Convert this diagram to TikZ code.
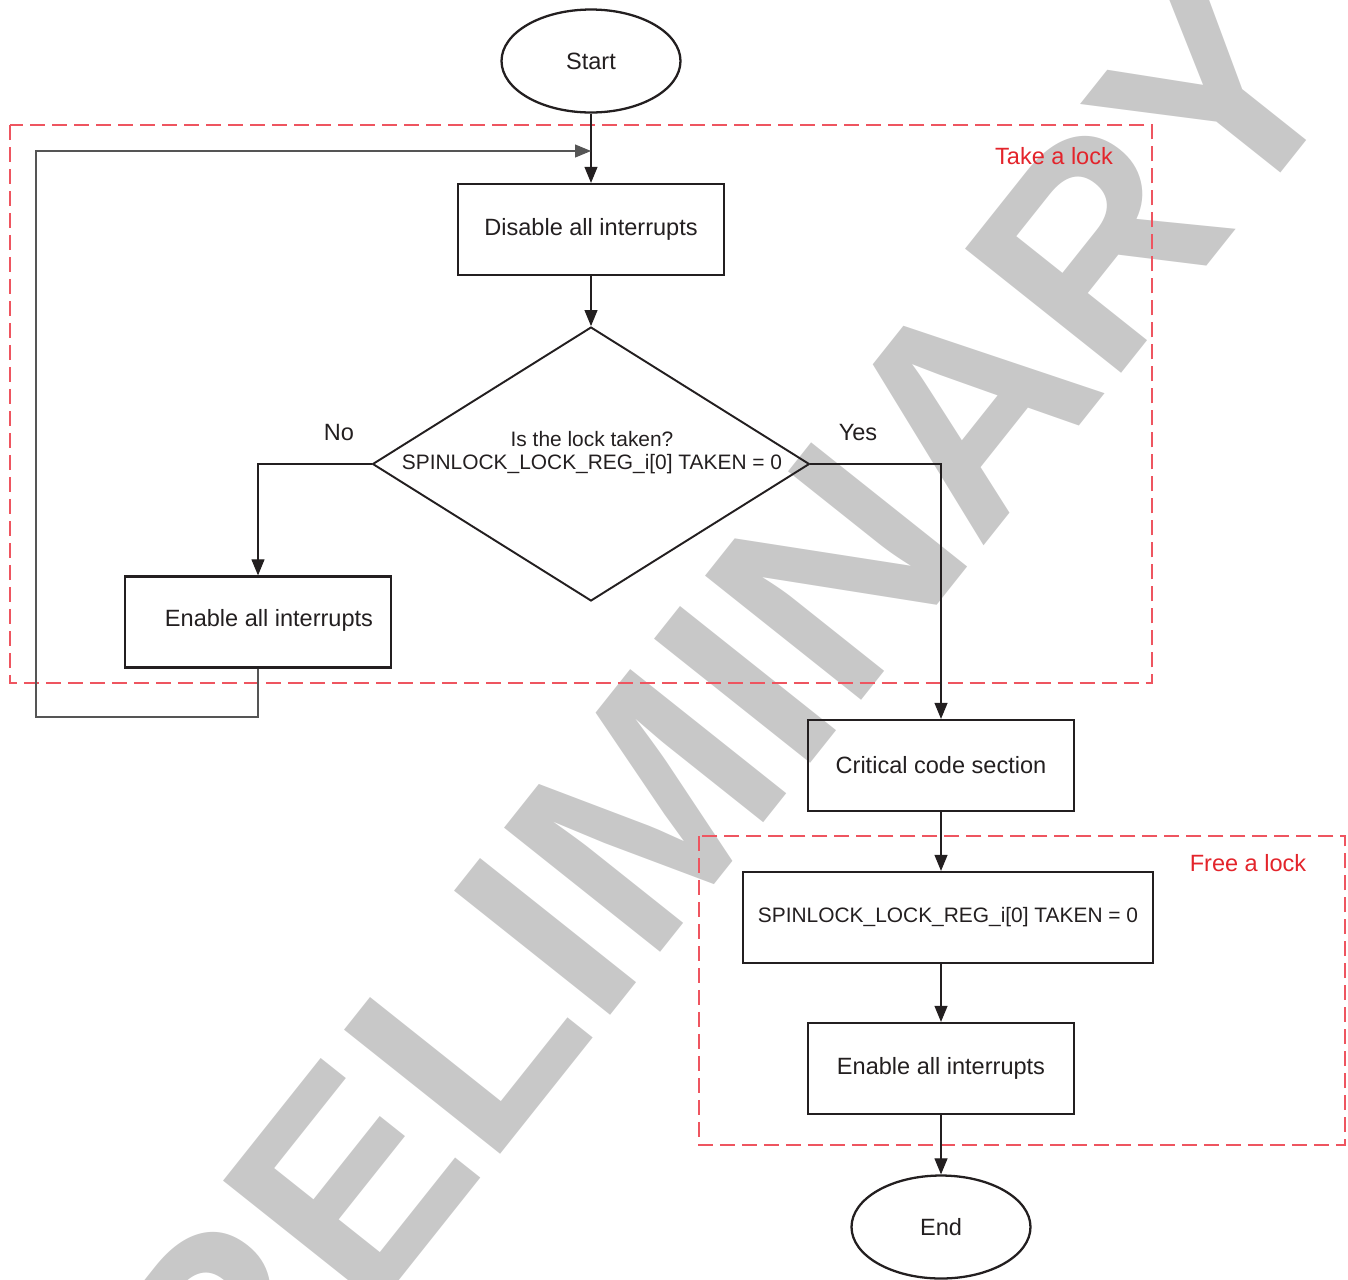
\documentclass[tikz,border=0pt]{standalone}
\usepackage{fontspec}
\setmainfont{Liberation Sans}
\usetikzlibrary{arrows.meta,shapes.geometric}
\definecolor{ink}{HTML}{231F20}
\definecolor{lockred}{HTML}{E3242B}
\definecolor{dashred}{HTML}{EE5560}
\definecolor{wm}{HTML}{C8C8C8}
\definecolor{loopgray}{HTML}{555555}
\begin{document}
\begin{tikzpicture}[x=0.02cm,y=-0.02cm,
  box/.style={draw=ink, line width=1.3pt, rectangle, minimum width=5.32cm, minimum height=1.82cm, inner sep=0pt},
  term/.style={draw=ink, line width=1.3pt, ellipse, minimum width=3.58cm, minimum height=2.06cm, inner sep=0pt},
  lbl/.style={font=\fontsize{13.4}{16}\selectfont, text=ink},
  small/.style={font=\fontsize{11.9}{13.1}\selectfont, text=ink, align=center},
  flow/.style={draw=ink, line width=0.6pt, -{Triangle[length=0.32cm,width=0.26cm]}},
  loopline/.style={draw=loopgray, line width=0.6pt, -{Triangle[length=0.32cm,width=0.26cm]}},
  region/.style={draw=dashred, line width=0.8pt, dash pattern=on 0.3cm off 0.14cm},
  regionlbl/.style={font=\fontsize{13.4}{16}\selectfont, text=lockred},
  wmark/.style={font=\fontsize{165}{165}\selectfont\bfseries, text=wm, inner sep=0pt},
]
\clip (0,0) rectangle (1348,1279);

% watermark
\node[wmark, rotate=51.5, anchor=base west] (wm) at (117,1636) {PRELIMINARY};

% dashed regions
\draw[region] (10,125) rectangle (1152,683);
\draw[region] (699,836) rectangle (1345,1145);
\node[regionlbl] (takelbl) at (1054,156) {Take a lock};
\node[regionlbl] (freelbl) at (1248,863) {Free a lock};

% flow nodes
\node[term, lbl] (start) at (591,61) {Start};
\node[box, lbl] (dis) at (591,229.5) {Disable all interrupts};
\node[draw=ink, line width=1.1pt, diamond, minimum width=8.74cm, minimum height=5.48cm, inner sep=0pt] (dia) at (591,464) {};
\node[small] (q) at (592,453) {Is the lock taken?\\SPINLOCK\_LOCK\_REG\_i[0] TAKEN = 0};
\node[box] (en1) at (258,622) {};
\node[lbl] (en1t) at (269,620) {Enable all interrupts};
\node[box, lbl] (crit) at (941,765.5) {Critical code section};
\node[box, minimum width=8.2cm, small] (spin) at (948,917.5) {SPINLOCK\_LOCK\_REG\_i[0] TAKEN = 0};
\node[box, lbl] (en2) at (941,1068.5) {Enable all interrupts};
\node[term, lbl] (end) at (941,1227) {End};

\node[lbl] (no) at (339,433) {No};
\node[lbl] (yes) at (858,433) {Yes};

% connectors
\coordinate (lb) at (36,717);
\coordinate (lt) at (36,151);
\coordinate (join) at (591,151);
\draw[flow] (start.south) -- (dis.north);
\draw[flow] (dis.south) -- (dia.north);
\draw[flow] (dia.west) -| (en1.north);
\draw[flow] (dia.east) -| (crit.north);
\draw[loopline] (en1.south) |- (lb) -- (lt) -- (join);
\draw[flow] (crit.south) -- (crit.south |- spin.north);
\draw[flow] (crit.south |- spin.south) -- (en2.north);
\draw[flow] (en2.south) -- (end.north);
\end{tikzpicture}
\end{document}
